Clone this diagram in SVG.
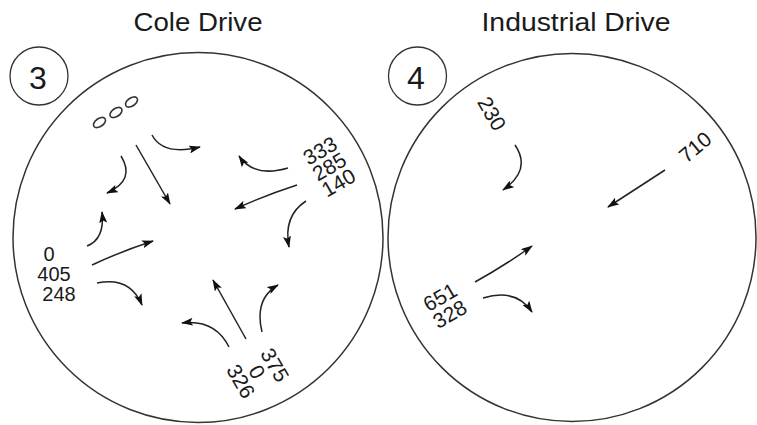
<svg xmlns="http://www.w3.org/2000/svg" width="757" height="425" viewBox="0 0 757 425">
  <style>
    .ring { fill: none; stroke: #333; stroke-width: 1.5; }
    .badge { fill: none; stroke: #333; stroke-width: 1.3; }
    .title { font-family: "Liberation Sans", Arial, sans-serif; font-size: 25px; fill: #1a1a1a; text-anchor: middle; }
    .num { font-family: "Liberation Sans", Arial, sans-serif; font-size: 32px; fill: #1a1a1a; text-anchor: middle; }
    .lbl { font-family: "Liberation Sans", Arial, sans-serif; font-size: 21px; fill: #1a1a1a; text-anchor: middle; }
    .lbl20 { font-family: "Liberation Sans", Arial, sans-serif; font-size: 20px; fill: #1a1a1a; text-anchor: middle; }
    .arr { fill: none; stroke: #222; stroke-width: 1.5; marker-end: url(#ah); }
    .oval { fill: none; stroke: #333; stroke-width: 1.6; }
  </style>
  <defs>
    <marker id="ah" viewBox="0 0 12 8" refX="11" refY="4" markerWidth="12" markerHeight="8" markerUnits="userSpaceOnUse" orient="auto">
      <path d="M0,0 L12,4 L0,8 L2.5,4 z" fill="#111"/>
    </marker>
  </defs>
  <rect width="757" height="425" fill="#ffffff"/>

  <g id="intersection-3">
    <text class="title" x="198" y="31" textLength="129" lengthAdjust="spacingAndGlyphs">Cole Drive</text>
    <circle class="ring" cx="198" cy="237.5" r="185"/>
    <g id="badge-3">
      <circle class="badge" cx="39" cy="76" r="29"/>
      <text class="num" x="38" y="89">3</text>
    </g>
    <g id="ovals">
      <ellipse class="oval" cx="99.5" cy="122.5" rx="6.8" ry="4" transform="rotate(-35 99.5 122.5)"/>
      <ellipse class="oval" cx="116" cy="112.5" rx="6.8" ry="4" transform="rotate(-35 116 112.5)"/>
      <ellipse class="oval" cx="131.5" cy="102" rx="6.8" ry="4" transform="rotate(-35 131.5 102)"/>
    </g>
    <g id="west-approach">
      <text class="lbl20" x="49" y="261">0</text>
      <text class="lbl20" x="54" y="281">405</text>
      <text class="lbl20" x="59" y="301">248</text>
    </g>
    <g id="east-approach" transform="translate(320,150.5) rotate(-30)">
      <text class="lbl" x="0" y="7.5">333</text>
      <text class="lbl" x="0" y="26">285</text>
      <text class="lbl" x="0" y="44.5">140</text>
    </g>
    <g id="south-approach" transform="translate(275,365) rotate(60)">
      <text class="lbl" x="0" y="7.5">375</text>
      <text class="lbl" x="-3" y="26.5">0</text>
      <text class="lbl" x="-3" y="45">326</text>
    </g>
  </g>

  <g id="intersection-4">
    <text class="title" x="576" y="31" textLength="189" lengthAdjust="spacingAndGlyphs">Industrial Drive</text>
    <circle class="ring" cx="572" cy="237.5" r="184"/>
    <g id="badge-4">
      <circle class="badge" cx="417.5" cy="76" r="29"/>
      <text class="num" x="416" y="89">4</text>
    </g>
    <g id="north-approach" transform="translate(492,113.5) rotate(60)">
      <text class="lbl" x="0" y="7.5">230</text>
    </g>
    <g id="east-approach-4" transform="translate(695,147) rotate(-40)">
      <text class="lbl" x="0" y="7.5">710</text>
    </g>
    <g id="west-approach-4" transform="translate(440,297) rotate(-30)">
      <text class="lbl" x="0" y="7.5">651</text>
      <text class="lbl" x="0" y="27">328</text>
    </g>
  </g>

  <g id="connectors">
    <path class="arr" d="M152,135 Q163,156 200,147"/>
    <path class="arr" d="M136,145 L170,204"/>
    <path class="arr" d="M121,156 Q136,180 107,193"/>
    <path class="arr" d="M87,246 Q105,239 102,212"/>
    <path class="arr" d="M92,265 Q122,251 153,241"/>
    <path class="arr" d="M97,283 Q130,276 142,305"/>
    <path class="arr" d="M288,168 Q254,178 239,156"/>
    <path class="arr" d="M297,185 Q266,195 235,209"/>
    <path class="arr" d="M306,201 Q283,216 289,247"/>
    <path class="arr" d="M229,347 Q215,319 182,323"/>
    <path class="arr" d="M246,339 L213,280"/>
    <path class="arr" d="M262,332 Q254,299 278,285"/>
    <path class="arr" d="M515,145 Q532,170 503,190"/>
    <path class="arr" d="M665,170 L608,207"/>
    <path class="arr" d="M475,282 Q504,266 532,246"/>
    <path class="arr" d="M483,298 Q516,288 532,312"/>
  </g>
</svg>
